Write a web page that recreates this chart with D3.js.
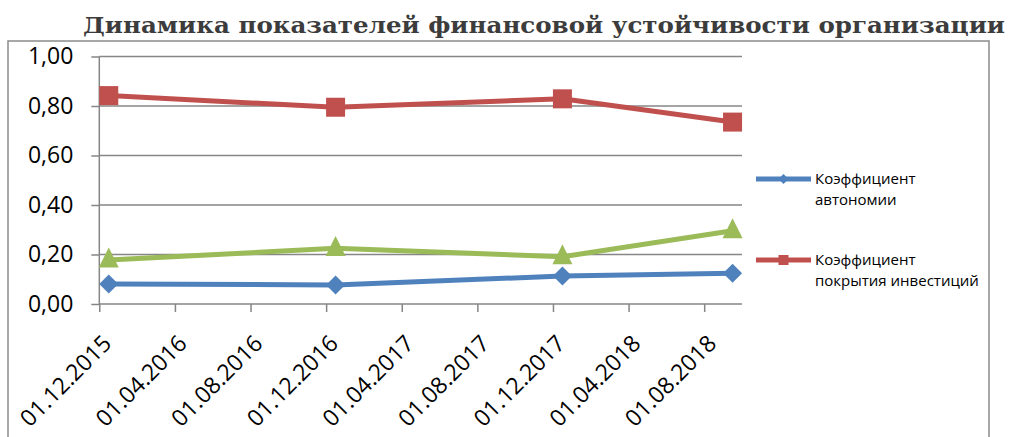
<!DOCTYPE html>
<html>
<head>
<meta charset="utf-8">
<script src="https://cdn.jsdelivr.net/npm/d3@7"></script>
<style>
  body { margin: 0; background: #fff; }
  svg { display: block; }
  .axis text { font-family: "Open Sans", sans-serif; font-size: 23px; fill: #000; }
  .axis path, .axis line { stroke: #868686; stroke-width: 1.5; }
</style>
</head>
<body>
<svg width="1010" height="437"></svg>
<script>
// values
var months = ["12.2015", "12.2016", "12.2017", "09.2018"];
var autonomy = [0.081, 0.077, 0.113, 0.124];
var coverage = [0.842, 0.795, 0.829, 0.735];
var third = [0.178, 0.225, 0.191, 0.296];
var tickLabels = ["01.12.2015", "01.04.2016", "01.08.2016", "01.12.2016", "01.04.2017",
                  "01.08.2017", "01.12.2017", "01.04.2018", "01.08.2018"];
var yTicks = [0, 0.2, 0.4, 0.6, 0.8, 1.0];

var svg = d3.select("svg");

// month number counted from 12.2015
function monthIndex(s) {
  var p = s.split(".");
  return (+p[p.length - 1] - 2015) * 12 + (+p[p.length - 2]) - 12;
}

var x = d3.scaleLinear().domain([0, 34]).range([99.3, 742]);
var y = d3.scaleLinear().domain([0, 1]).range([304, 56.5]);

// outer frame
svg.append("path")
    .attr("d", "M8,437V41H989V437")
    .attr("fill", "none")
    .attr("stroke", "#8c8c8c")
    .attr("stroke-width", 1.5);

svg.append("text")
    .attr("x", 83)
    .attr("y", 33)
    .attr("textLength", 922)
    .attr("lengthAdjust", "spacingAndGlyphs")
    .attr("font-family", "DejaVu Serif, serif")
    .attr("font-weight", "bold")
    .attr("font-size", 23)
    .attr("fill", "#3c3c3c")
    .text("Динамика показателей финансовой устойчивости организации");

// gridlines
svg.append("g")
  .selectAll("line")
  .data(yTicks.slice(1))
  .enter().append("line")
    .attr("x1", x(0)).attr("x2", x(34))
    .attr("y1", function(d) { return y(d); })
    .attr("y2", function(d) { return y(d); })
    .attr("stroke", "#868686")
    .attr("stroke-width", 1.5);

var yAxis = svg.append("g")
    .attr("class", "axis")
    .attr("transform", "translate(" + x(0) + ",0)")
    .call(d3.axisLeft(y).tickValues(yTicks).tickSize(8).tickPadding(18)
      .tickFormat(function(d) { return d3.format(".2f")(d).replace(".", ","); }));
yAxis.select(".domain").attr("d", "M0," + y(1) + "V" + y(0));

var xAxis = svg.append("g")
    .attr("class", "axis")
    .attr("transform", "translate(0," + y(0) + ")")
    .call(d3.axisBottom(x)
      .tickValues(tickLabels.map(function(d) { return monthIndex(d); }))
      .tickSize(8)
      .tickFormat(function(d, i) { return tickLabels[i]; }));
xAxis.select(".domain").attr("d", "M" + x(0) + ",0H" + x(34));
xAxis.selectAll("text")
    .attr("text-anchor", "end")
    .attr("dy", null)
    .attr("y", 0)
    .attr("transform", "translate(13,41) rotate(-45)");

// points sit in the middle of their month
function px(i) { return x(monthIndex(months[i]) + 0.5); }

var series = [
  {name: "third", values: third, color: "#9bbb59", marker: "triangle"},
  {name: "coverage", values: coverage, color: "#c0504d", marker: "square"},
  {name: "autonomy", values: autonomy, color: "#4f81bd", marker: "diamond"}
];

function markerPath(type, s) {
  if (type === "square") return "M" + (-s / 2) + "," + (-s / 2) + "h" + s + "v" + s + "h" + (-s) + "Z";
  if (type === "diamond") return "M0," + (-s / 2) + "L" + (s / 2) + ",0L0," + (s / 2) + "L" + (-s / 2) + ",0Z";
  return "M0," + (-s * 0.62) + "L" + (s / 2) + "," + (s * 0.38) + "L" + (-s / 2) + "," + (s * 0.38) + "Z";
}

var line = d3.line()
    .x(function(d, i) { return px(i); })
    .y(function(d) { return y(d); });

series.forEach(function(s) {
  svg.append("path")
      .datum(s.values)
      .attr("d", line)
      .attr("fill", "none")
      .attr("stroke", s.color)
      .attr("stroke-width", 5)
      .attr("stroke-linejoin", "round");

  svg.append("g")
    .selectAll("path")
    .data(s.values)
    .enter().append("path")
      .attr("transform", function(d, i) { return "translate(" + px(i) + "," + y(d) + ")"; })
      .attr("d", markerPath(s.marker, s.marker === "triangle" ? 20 : 19))
      .attr("fill", s.color);
});

// legend
var legendItems = [
  {lines: ["Коэффициент", "автономии"], color: "#4f81bd", marker: "diamond", y: 179},
  {lines: ["Коэффициент", "покрытия инвестиций"], color: "#c0504d", marker: "square", y: 260}
];

var legend = svg.append("g")
  .selectAll("g")
  .data(legendItems)
  .enter().append("g")
    .attr("transform", function(d) { return "translate(756," + d.y + ")"; });

legend.append("line")
    .attr("x1", 0).attr("x2", 55)
    .attr("stroke", function(d) { return d.color; })
    .attr("stroke-width", 5);

legend.append("path")
    .attr("transform", "translate(27.5,0)")
    .attr("d", function(d) { return markerPath(d.marker, 10); })
    .attr("fill", function(d) { return d.color; });

legend.append("text")
    .attr("font-family", "Open Sans, sans-serif")
    .attr("font-size", 15)
    .attr("fill", "#000")
  .selectAll("tspan")
  .data(function(d) { return d.lines; })
  .enter().append("tspan")
    .attr("x", 59)
    .attr("y", function(d, i) { return i * 21; })
    .attr("dy", "0.35em")
    .text(function(d) { return d; });
</script>
</body>
</html>
